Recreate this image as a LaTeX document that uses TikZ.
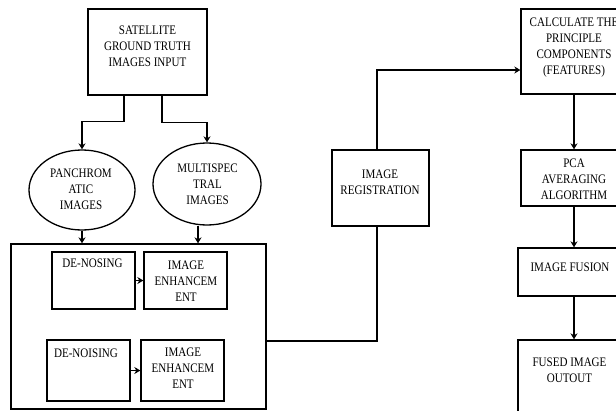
\documentclass[tikz,border=0pt]{standalone}
\usepackage{fontspec}
\setmainfont{Liberation Serif}[FakeStretch=0.85]
\usetikzlibrary{arrows.meta,shapes.geometric,calc}
\begin{document}
\begin{tikzpicture}[x=1pt,y=-1pt,
 blk/.style={draw,line width=1.3pt,inner sep=0pt},
 ell/.style={draw,ellipse,line width=1.3pt,inner sep=0pt},
 txt/.style={align=center,inner sep=0pt,font=\fontsize{13}{16}\selectfont},
 con/.style={line width=1.3pt},
 arr/.style={con,-{Stealth[length=6pt,width=7pt]}}]
\useasboundingbox (0,0) rectangle (616,410);
% left part
\node[blk,minimum width=119pt,minimum height=86pt] (sat) at (147.5,52) {};
\node[txt] (satT) at (147.5,46) {SATELLITE\\GROUND TRUTH\\IMAGES INPUT};
\node[ell,minimum width=106pt,minimum height=80pt] (pan) at (82,190) {};
\node[txt] (panT) at (81,189) {PANCHROM\\ATIC\\IMAGES};
\node[ell,minimum width=108pt,minimum height=82pt] (mul) at (207,184) {};
\node[txt] (mulT) at (207.5,184.5) {MULTISPEC\\TRAL\\IMAGES};
\node[blk,minimum width=255pt,minimum height=165pt] (big) at (138.5,326.5) {};
\node[blk,minimum width=83pt,minimum height=57pt] (dn1) at (93.5,280.5) {};
\node[txt] (dn1T) at (92.5,263) {DE-NOSING};
\node[blk,minimum width=83pt,minimum height=57pt] (en1) at (185.5,280.5) {};
\node[txt] (en1T) at (186,281) {IMAGE\\ENHANCEM\\ENT};
\node[blk,minimum width=83pt,minimum height=61pt] (dn2) at (88.5,370.5) {};
\node[txt] (dn2T) at (86,353) {DE-NOISING};
\node[blk,minimum width=83pt,minimum height=61pt] (en2) at (182.5,370.5) {};
\node[txt] (en2T) at (183,368.5) {IMAGE\\ENHANCEM\\ENT};
% middle
\node[blk,minimum width=97pt,minimum height=76pt] (reg) at (380.5,188) {};
\node[txt] (regT) at (380,182.5) {IMAGE\\REGISTRATION};
% right
\node[blk,minimum width=106pt,minimum height=85pt] (calc) at (574,51.5) {};
\node[txt] (calcT) at (574,47.5) {CALCULATE THE\\PRINCIPLE\\COMPONENTS\\(FEATURES)};
\node[blk,minimum width=106pt,minimum height=56pt] (pca) at (574,178) {};
\node[txt] (pcaT) at (574,179) {PCA\\AVERAGING\\ALGORITHM};
\node[blk,minimum width=104pt,minimum height=48pt] (fus) at (570,272) {};
\node[txt] (fusT) at (570,267) {IMAGE FUSION};
\node[blk,minimum width=104pt,minimum height=80pt] (out) at (570,380) {};
\node[txt] (outT) at (569.5,370.5) {FUSED IMAGE\\OUTOUT};
% connectors
\draw[arr] ([xshift=-23.5pt]sat.south) -- ++(0,26) -| (pan.north);
\draw[arr] ([xshift=14.5pt]sat.south) -- ++(0,27) -| (mul.north);
\draw[arr] (pan.south) -- (pan.south |- big.north);
\draw[arr] ([xshift=-9pt]mul.south) -- ([xshift=-9pt]mul.south |- big.north);
\draw[arr] (dn1.east) -- (en1.west);
\draw[arr] (dn2.east) -- (en2.west);
\draw[con] (big.east |- 0,341) -| ([xshift=-3.5pt]reg.south);
\draw[arr] ([xshift=-3.5pt]reg.north) |- (calc.west |- 0,70);
\draw[arr] (calc.south) -- (pca.north);
\draw[arr] (pca.south) -- (pca.south |- fus.north);
\draw[arr] (pca.south |- fus.south) -- (pca.south |- out.north);
\end{tikzpicture}
\end{document}
